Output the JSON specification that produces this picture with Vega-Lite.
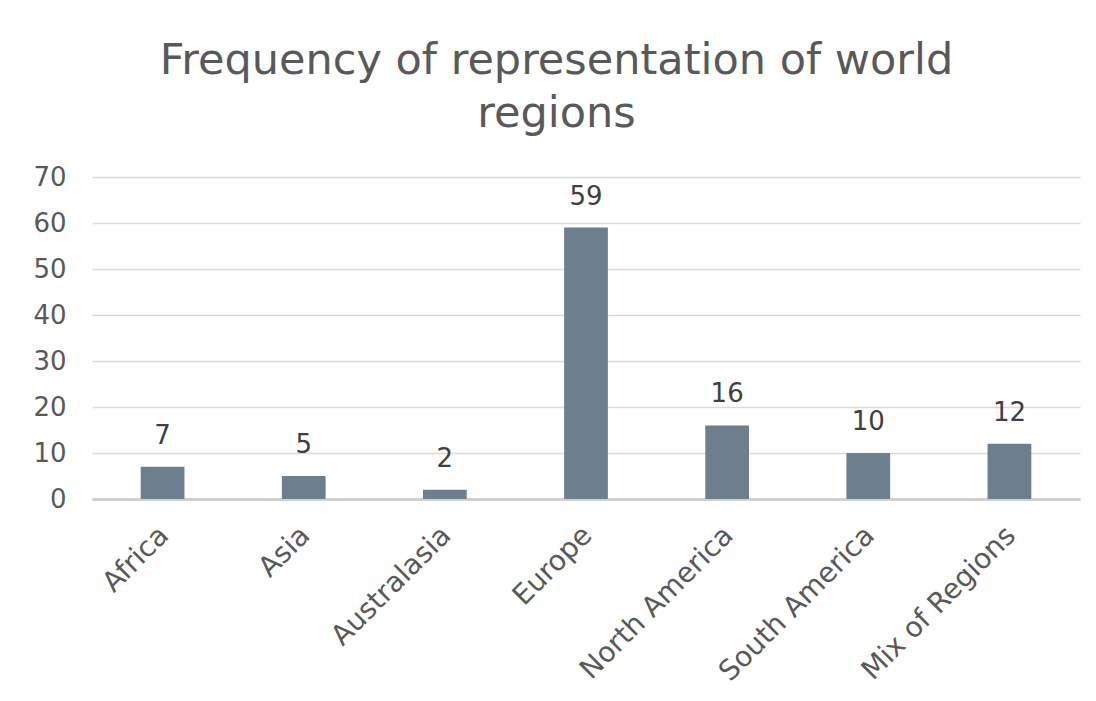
{
  "$schema": "https://vega.github.io/schema/vega-lite/v6.json",
  "autosize": {"type": "fit", "contains": "padding"},
  "width": 1096,
  "height": 701,
  "padding": {"left": 32, "top": 40, "right": 16, "bottom": 14},
  "background": "white",
  "title": {
    "text": ["Frequency of representation of world", "regions"],
    "font": "DejaVu Sans",
    "fontSize": 43,
    "fontWeight": "normal",
    "color": "#595959",
    "lineHeight": 53,
    "offset": 28,
    "frame": "bounds",
    "anchor": "middle"
  },
  "data": {
    "values": [
      {"region": "Africa", "count": 7},
      {"region": "Asia", "count": 5},
      {"region": "Australasia", "count": 2},
      {"region": "Europe", "count": 59},
      {"region": "North America", "count": 16},
      {"region": "South America", "count": 10},
      {"region": "Mix of Regions", "count": 12}
    ]
  },
  "encoding": {
    "x": {
      "field": "region",
      "type": "nominal",
      "sort": null,
      "scale": {"paddingInner": 0.69, "paddingOuter": 0.345},
      "axis": {
        "title": null,
        "labelAngle": -45,
        "labelAlign": "right",
        "labelBaseline": "top",
        "labelFont": "DejaVu Sans",
        "labelFontSize": 28,
        "labelColor": "#595959",
        "labelPadding": 22,
        "labelOffset": -8,
        "labelLimit": 400,
        "ticks": false,
        "domainColor": "#d0d0d0",
        "domainWidth": 3
      }
    },
    "y": {
      "field": "count",
      "type": "quantitative",
      "scale": {"domain": [0, 70]},
      "axis": {
        "title": null,
        "values": [0, 10, 20, 30, 40, 50, 60, 70],
        "labelFont": "DejaVu Sans",
        "labelFontSize": 26,
        "labelColor": "#595959",
        "labelPadding": 26,
        "ticks": false,
        "domain": false,
        "gridColor": "#d9d9d9",
        "gridWidth": 1.5
      }
    }
  },
  "layer": [
    {"mark": {"type": "bar", "color": "#6d7f8e"}},
    {
      "mark": {"type": "text", "dy": -31, "font": "DejaVu Sans", "fontSize": 26, "color": "#404040"},
      "encoding": {"text": {"field": "count", "type": "quantitative"}}
    }
  ],
  "config": {"view": {"stroke": null}}
}
